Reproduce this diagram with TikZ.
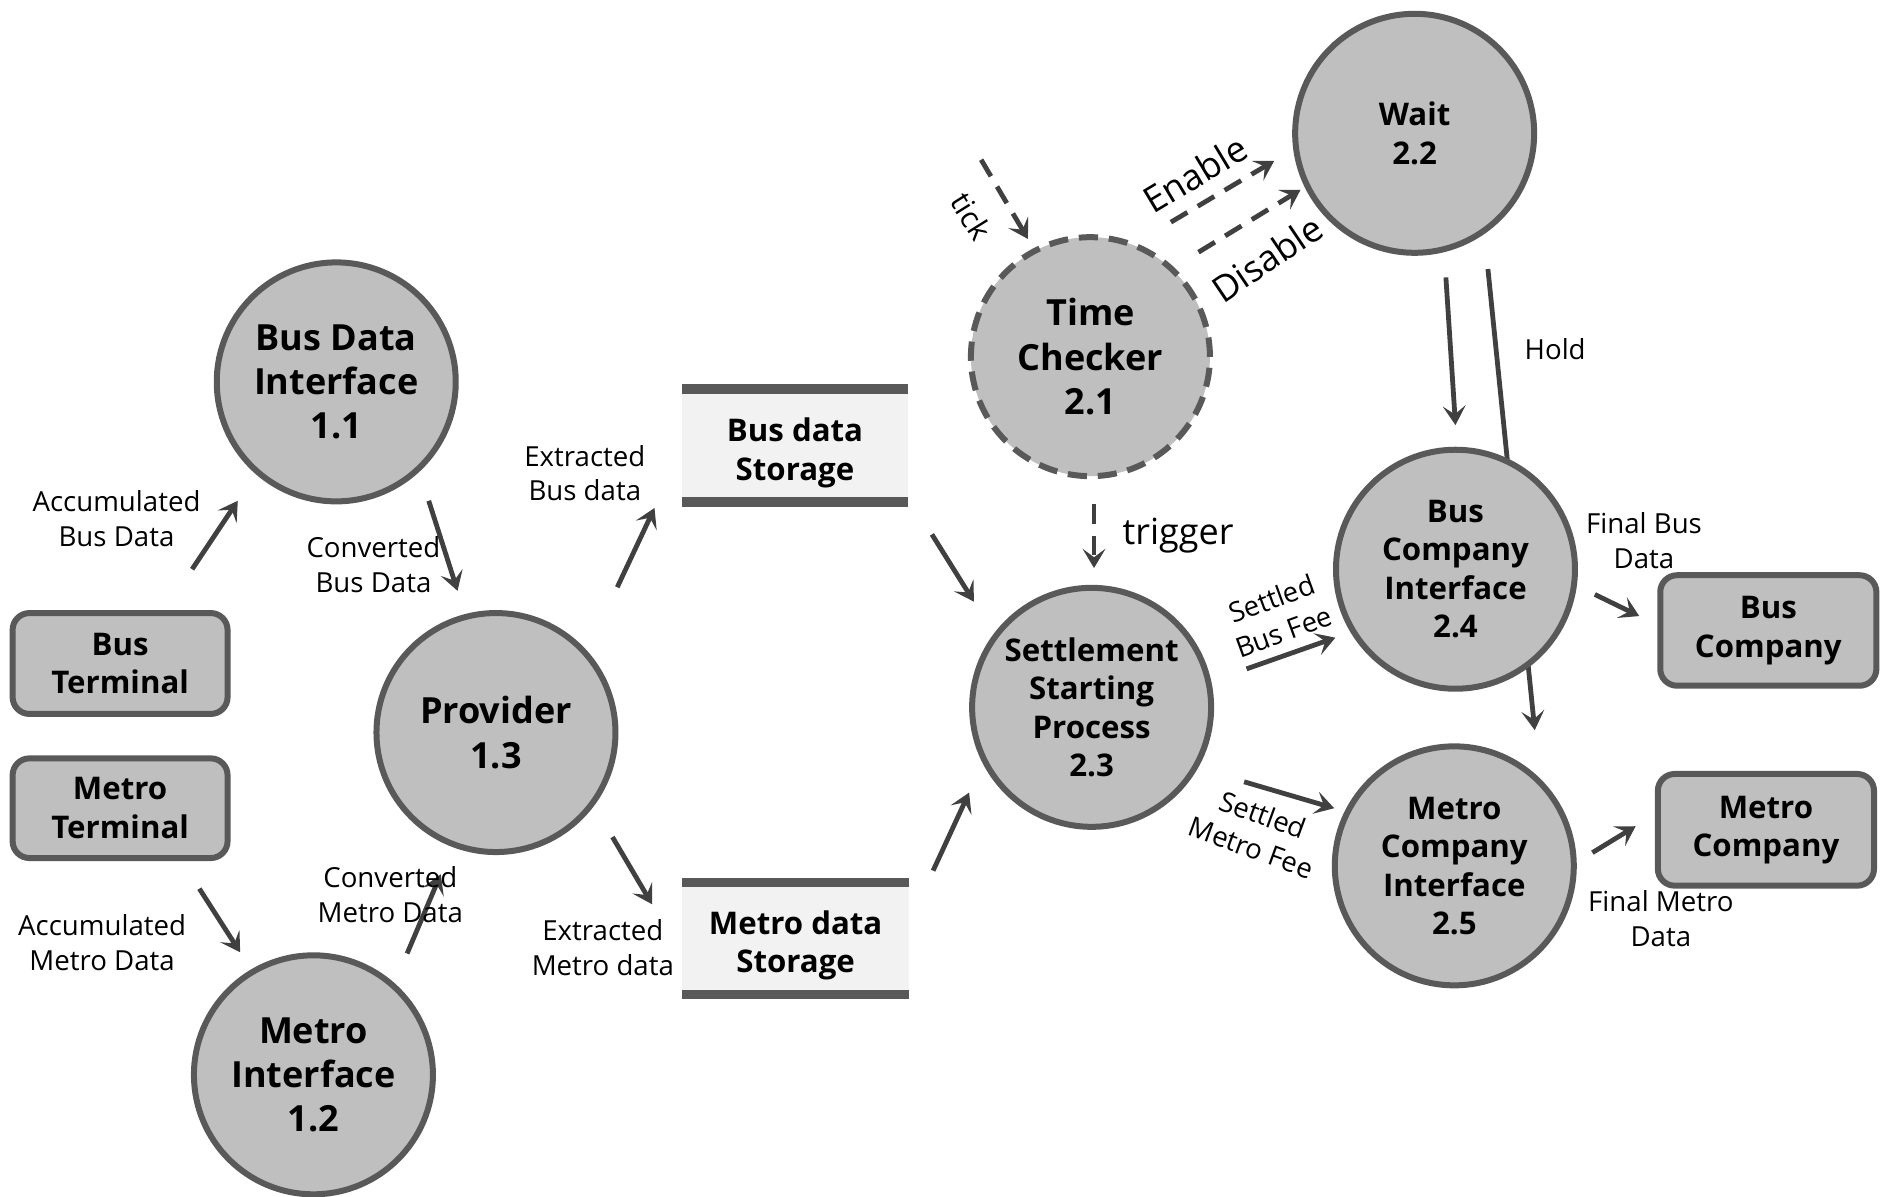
\documentclass[tikz,border=0pt]{standalone}
\usepackage{fontspec}
\setmainfont{Open Sans}
\usetikzlibrary{arrows.meta}
\definecolor{nodefill}{HTML}{BFBFBF}
\definecolor{nodeline}{HTML}{595959}
\definecolor{arrowcol}{HTML}{404040}
\definecolor{storefill}{HTML}{F2F2F2}
\begin{document}
\begin{tikzpicture}[x=1pt,y=-1pt,
 proc/.style={circle, draw=nodeline, fill=nodefill, line width=5pt, minimum size=199pt, inner sep=0pt, align=center, text=black},
 bigtxt/.style={font=\bfseries\fontsize{30}{37}\selectfont},
 midtxt/.style={font=\bfseries\fontsize{26}{32}\selectfont},
 term/.style={draw=nodeline, fill=nodefill, line width=5pt, rounded corners=14pt, align=center, inner sep=0pt, font=\bfseries\fontsize{26}{32}\selectfont},
 store/.style={fill=storefill, minimum width=188pt, minimum height=102pt, inner sep=0pt},
 storetxt/.style={align=center, inner sep=0pt, font=\bfseries\fontsize{26}{32}\selectfont},
 storebar/.style={fill=nodeline},
 lbl/.style={align=center, inner sep=0pt, font=\fontsize{23}{29}\selectfont},
 biglbl/.style={align=center, inner sep=0pt, font=\fontsize{30}{36}\selectfont},
 flow/.style={draw=arrowcol, line width=4pt, -{Stealth[length=16pt,width=19pt,inset=7pt]}},
 dflow/.style={flow, dash pattern=on 16pt off 10pt},
]
\useasboundingbox (0,0) rectangle (1568,996);

% connector end points
\coordinate (a1s) at (160,474); \coordinate (a1e) at (198,417);
\coordinate (a2s) at (357,417); \coordinate (a2e) at (381,492);
\coordinate (a3s) at (514,489); \coordinate (a3e) at (545,423);
\coordinate (a4s) at (776,445); \coordinate (a4e) at (811,501);
\coordinate (a5s) at (166,740); \coordinate (a5e) at (200,793);
\coordinate (a6s) at (339,794); \coordinate (a6e) at (367,728);
\coordinate (a7s) at (510,697); \coordinate (a7e) at (543,753);
\coordinate (a8s) at (777,725); \coordinate (a8e) at (807,660);
\coordinate (tks) at (817,133); \coordinate (tke) at (856,199);
\coordinate (ens) at (975,185); \coordinate (ene) at (1061,134);
\coordinate (dis) at (998,210); \coordinate (die) at (1083,158);
\coordinate (trs) at (911,420); \coordinate (tre) at (911,473);
\coordinate (wbs) at (1204,231); \coordinate (wbe) at (1212,354);
\coordinate (hos) at (1239,224); \coordinate (hoe) at (1278,608);
\coordinate (sbs) at (1038,557); \coordinate (sbe) at (1112,531);
\coordinate (sms) at (1036,651); \coordinate (sme) at (1111,673);
\coordinate (fbs) at (1328,495); \coordinate (fbe) at (1365,513);
\coordinate (fms) at (1326,710); \coordinate (fme) at (1362,688);

% Hold line passes behind Bus Company Interface
\draw[flow] (hos) -- (hoe);

% processes
\node[proc,bigtxt] (bdi) at (280,318) {Bus Data\\Interface\\1.1};
\node[proc,bigtxt] (prov) at (413,610) {Provider\\1.3};
\node[proc,bigtxt] (mi) at (261,895) {Metro\\Interface\\1.2};
\node[proc,bigtxt,dash pattern=on 16pt off 9pt] (tc) at (908,297) {Time\\Checker\\2.1};
\node[proc,midtxt] (wait) at (1178,111) {Wait\\2.2};
\node[proc,midtxt] (ssp) at (909,589) {Settlement\\Starting\\Process\\2.3};
\node[proc,midtxt] (bci) at (1212,474) {Bus\\Company\\Interface\\2.4};
\node[proc,midtxt] (mci) at (1211,721) {Metro\\Company\\Interface\\2.5};

% terminators
\node[term, minimum width=179pt, minimum height=84pt] (bt) at (100,552.5) {Bus\\Terminal};
\node[term, minimum width=179pt, minimum height=83pt] (mt) at (100,673) {Metro\\Terminal};
\node[term, minimum width=180pt, minimum height=92pt] (bc) at (1472.5,525) {Bus\\Company};
\node[term, minimum width=180pt, minimum height=93pt] (mc) at (1470.5,691) {Metro\\Company};

% data stores
\node[store] (bds) at (662,371) {};
\fill[storebar] (bds.north west) rectangle ([yshift=-8pt]bds.north east);
\fill[storebar] ([yshift=8pt]bds.south west) rectangle (bds.south east);
\node[storetxt] (bdst) at (662,377) {Bus data\\Storage};
\node[store, minimum width=189pt, minimum height=101pt] (mds) at (662.5,781.5) {};
\fill[storebar] (mds.north west) rectangle ([yshift=-8pt]mds.north east);
\fill[storebar] ([yshift=8pt]mds.south west) rectangle (mds.south east);
\node[storetxt] (mdst) at (662.5,787) {Metro data\\Storage};

% flows
\draw[flow] (a1s) -- (a1e);
\draw[flow] (a2s) -- (a2e);
\draw[flow] (a3s) -- (a3e);
\draw[flow] (a4s) -- (a4e);
\draw[flow] (a5s) -- (a5e);
\draw[flow] (a6s) -- (a6e);
\draw[flow] (a7s) -- (a7e);
\draw[flow] (a8s) -- (a8e);
\draw[dflow] (tks) -- (tke);
\draw[dflow] (ens) -- (ene);
\draw[dflow] (dis) -- (die);
\draw[dflow] (trs) -- (tre);
\draw[flow] (wbs) -- (wbe);
\draw[flow] (sbs) -- (sbe);
\draw[flow] (sms) -- (sme);
\draw[flow] (fbs) -- (fbe);
\draw[flow] (fms) -- (fme);

% labels
\node[lbl] (l1) at (97,432) {Accumulated\\Bus Data};
\node[lbl] (l2) at (311,470) {Converted\\Bus Data};
\node[lbl] (l3) at (487,394) {Extracted\\Bus data};
\node[lbl] (l5) at (85,785) {Accumulated\\Metro Data};
\node[lbl] (l6) at (325,745) {Converted\\Metro Data};
\node[lbl] (l7) at (502,789) {Extracted\\Metro data};
\node[lbl] (lhold) at (1295,291) {Hold};
\node[biglbl] (ltrig) at (981,446) {trigger};
\node[lbl] (lfb) at (1369,450) {Final Bus\\Data};
\node[lbl] (lfm) at (1383,765) {Final Metro\\Data};
\node[lbl, rotate=20] (lsb) at (1064,512) {Settled\\Bus Fee};
\node[lbl, rotate=-20] (lsm) at (1047,692) {Settled\\Metro Fee};
\node[biglbl, rotate=31] (len) at (995,145) {Enable};
\node[biglbl, rotate=34] (ldi) at (1055,215) {Disable};
\node[lbl, font=\fontsize{25}{30}\selectfont, rotate=-58] (ltick) at (809,180) {tick};
\end{tikzpicture}
\end{document}
